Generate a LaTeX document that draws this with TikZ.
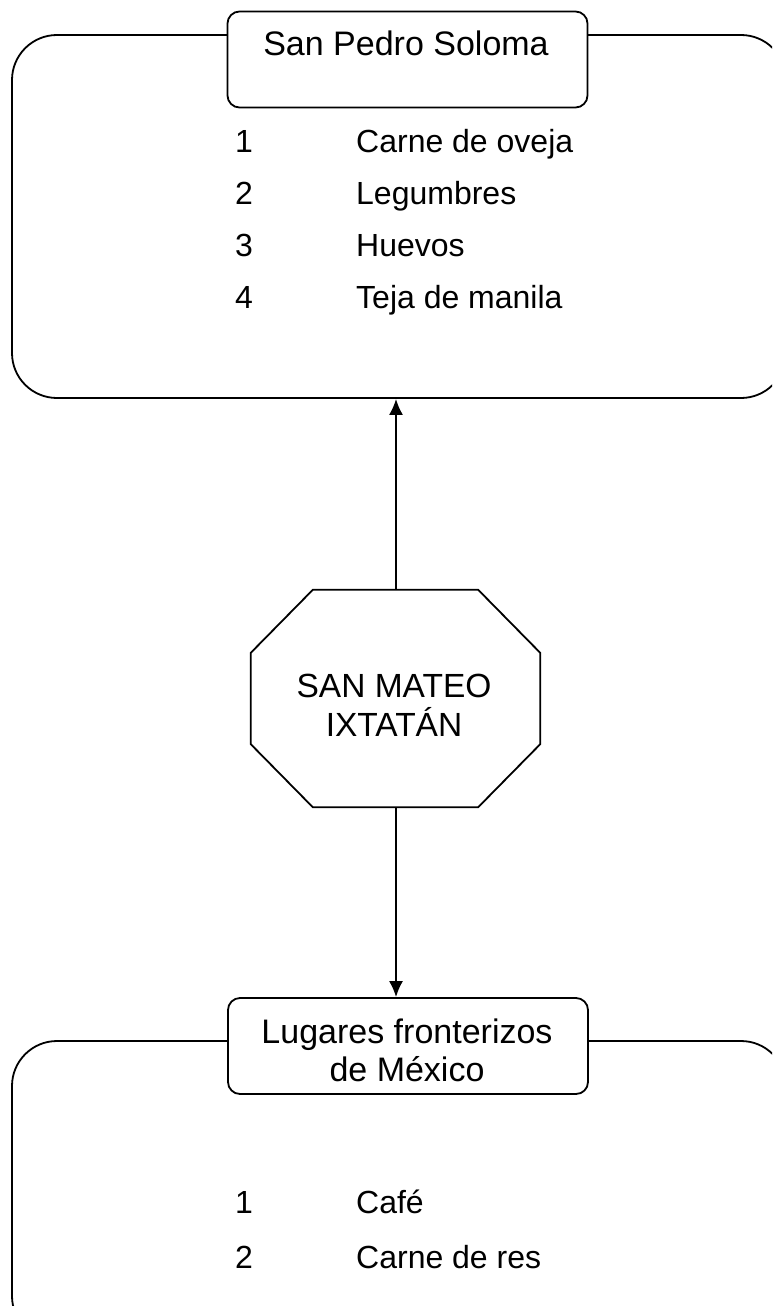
\documentclass[tikz,border=0pt]{standalone}
\usepackage{fontspec}
\setmainfont{Liberation Sans}
\usetikzlibrary{arrows.meta}
\begin{document}
\begin{tikzpicture}[x=1pt,y=-1pt,
  ln/.style={line width=1.8pt},
  bigbox/.style={ln,draw,rounded corners=45pt,inner sep=0pt},
  titlebox/.style={ln,draw,fill=white,rounded corners=12pt,inner sep=0pt,minimum width=360pt,minimum height=96pt},
  txt/.style={font=\fontsize{32}{38}\selectfont,inner sep=0pt},
  ttxt/.style={font=\fontsize{34}{40}\selectfont,inner sep=0pt},
  conn/.style={ln,-{Latex[length=16pt,width=14pt]}}
]
\path[use as bounding box,clip] (0,0) rectangle (772,1306);
\fill[white] (0,0) rectangle (772,1306);
% top group
\node[bigbox,minimum width=774pt,minimum height=363pt] (topbox) at (399,216.5) {};
\node[titlebox] (toptitle) at (407.5,59.5) {};
\node[ttxt,anchor=base] (toptext) at (406,56) {San Pedro Soloma};
\foreach \n/\t/\y in {1/Carne de oveja/152,2/Legumbres/204,3/Huevos/256,4/Teja de manila/308}{
  \node[txt,anchor=base] (tn\n) at (244,\y) {\n};
  \node[txt,anchor=base west] (tt\n) at (356,\y) {\t};
}
% center octagon
\node[inner sep=0pt,minimum width=289pt,minimum height=217pt] (oct) at (395.5,698.5) {};
\node[inner sep=0pt,font=\fontsize{33.5}{39}\selectfont,anchor=base] (oct1) at (394,697) {SAN MATEO};
\node[inner sep=0pt,font=\fontsize{33.5}{39}\selectfont,anchor=base] (oct2) at (394,736) {IXTATÁN};
\draw[ln] ([xshift=62pt]oct.north west) -- ([xshift=-62pt]oct.north east)
  -- ([yshift=-63pt]oct.north east) -- ([yshift=63pt]oct.south east)
  -- ([xshift=-62pt]oct.south east) -- ([xshift=62pt]oct.south west)
  -- ([yshift=63pt]oct.south west) -- ([yshift=-63pt]oct.north west) -- cycle;
% bottom group
\node[bigbox,minimum width=774pt,minimum height=300pt] (botbox) at (399,1191) {};
\node[titlebox] (bottitle) at (408,1046) {};
\node[ttxt,anchor=base] (botl1) at (407,1043) {Lugares fronterizos};
\node[ttxt,anchor=base] (botl2) at (407,1081) {de México};
\foreach \n/\t/\y in {1/Café/1213,2/Carne de res/1268}{
  \node[txt,anchor=base] (bn\n) at (244,\y) {\n};
  \node[txt,anchor=base west] (bt\n) at (356,\y) {\t};
}
% connectors
\draw[conn] (oct.north -| 396,0) coordinate (a1) -- (a1 |- topbox.south);
\draw[conn] (oct.south -| 396,0) coordinate (a2) -- (a2 |- bottitle.north);
\end{tikzpicture}
\end{document}
